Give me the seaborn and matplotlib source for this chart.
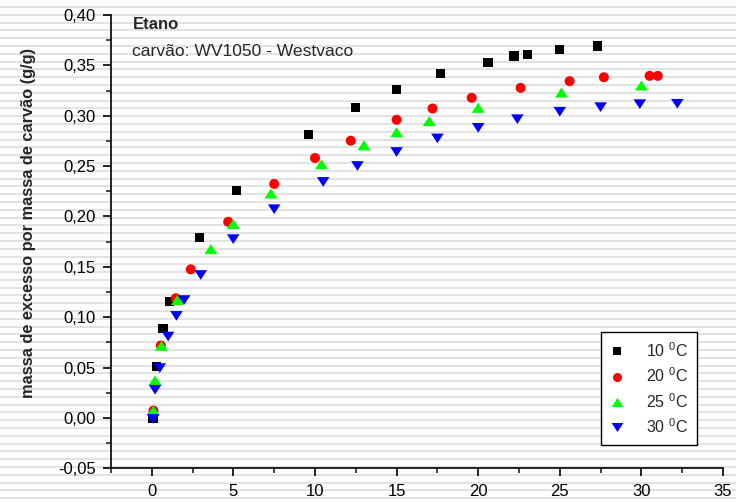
import numpy as np
import pandas as pd
import matplotlib
matplotlib.use("Agg")
import matplotlib.pyplot as plt
from matplotlib.lines import Line2D
from matplotlib.ticker import FuncFormatter, MultipleLocator
import seaborn as sns

# ---- data ----
x10 = [0.08, 0.28, 0.69, 1.1, 2.9, 5.19, 9.59, 12.49, 15.0, 17.71, 20.6, 22.2, 23.0, 25.0, 27.3]
y10 = [0.000, 0.051, 0.089, 0.1155, 0.179, 0.226, 0.2815, 0.308, 0.3257, 0.3416, 0.353, 0.3594, 0.3607, 0.366, 0.3693]

x20 = [0.1, 0.55, 1.47, 2.39, 4.68, 7.5, 10.0, 12.19, 15.0, 17.2, 19.6, 22.6, 25.6, 27.7, 30.5, 31.0]
y20 = [0.0072, 0.0719, 0.1188, 0.1475, 0.1947, 0.2323, 0.258, 0.2752, 0.296, 0.3072, 0.3178, 0.3277, 0.3343, 0.3382, 0.3396, 0.3396]

x25 = [0.1, 0.2, 0.59, 1.57, 3.62, 4.99, 7.3, 10.4, 13.0, 15.0, 17.0, 20.0, 25.1, 30.0]
y25 = [0.0072, 0.0372, 0.0716, 0.117, 0.1676, 0.1924, 0.2228, 0.2518, 0.2706, 0.2835, 0.2947, 0.3079, 0.323, 0.330]

x30 = [0.08, 0.2, 0.49, 1.0, 1.51, 1.98, 3.0, 4.99, 7.5, 10.5, 12.6, 15.0, 17.5, 20.0, 22.4, 25.0, 27.5, 29.9, 32.2]
y30 = [-0.001, 0.028, 0.0495, 0.0808, 0.1013, 0.117, 0.1419, 0.1775, 0.2072, 0.2343, 0.2501, 0.264, 0.2775, 0.288, 0.2966, 0.304, 0.3085, 0.3115, 0.3119]

series_labels = ["10 $^0$C", "20 $^0$C", "25 $^0$C", "30 $^0$C"]
title_text = "Etano"
subtitle_text = "carvão: WV1050 - Westvaco"
ylabel_text = "massa de excesso por massa de carvão (g/g)"

df = pd.concat([
    pd.DataFrame({"x": x, "y": y, "serie": lab})
    for x, y, lab in zip([x10, x20, x25, x30], [y10, y20, y25, y30], series_labels)
], ignore_index=True)

# ---- style ----
sns.set_style("ticks")
plt.rcParams["font.family"] = ["Liberation Sans", "DejaVu Sans"]
plt.rcParams["mathtext.fontset"] = "custom"
plt.rcParams["mathtext.rm"] = "Liberation Sans"
plt.rcParams["mathtext.it"] = "Liberation Sans:italic"
plt.rcParams["mathtext.bf"] = "Liberation Sans:bold"

fig = plt.figure(figsize=(7.36, 5.03), dpi=100)
fig.patch.set_facecolor("white")

# background horizontal stripes (as in the scanned reference)
H = 503.0
period = 7.8
y0 = 6.9
k = 0
while y0 + k * period < H:
    py = y0 + k * period
    fig.add_artist(Line2D([0, 1], [1 - py / H, 1 - py / H], transform=fig.transFigure,
                          color="#e2e2e2", lw=1.4, zorder=-20))
    k += 1

ax = fig.add_axes([111 / 736, 1 - 468.3 / 503, (723 - 111) / 736, (468.3 - 15) / 503])
ax.patch.set_visible(False)

tri_up = [(-1.3, -1.0), (1.3, -1.0), (0.0, 1.0)]
tri_dn = [(-1.3, 1.0), (1.3, 1.0), (0.0, -1.0)]

palette = {series_labels[0]: "#000000", series_labels[1]: "#ff0000",
           series_labels[2]: "#00ff00", series_labels[3]: "#0000ff"}
markers = {series_labels[0]: "s", series_labels[1]: "o",
           series_labels[2]: tri_up, series_labels[3]: tri_dn}
sizes = {series_labels[0]: 44, series_labels[1]: 52,
         series_labels[2]: 88, series_labels[3]: 82}

sns.scatterplot(data=df, x="x", y="y", hue="serie", style="serie", size="serie",
                palette=palette, markers=markers, sizes=sizes, linewidth=0,
                ax=ax, legend=False, zorder=3)

ax.set_xlim(-2.5, 35)
ax.set_ylim(-0.05, 0.40)

ax.xaxis.set_major_locator(MultipleLocator(5))
ax.xaxis.set_minor_locator(MultipleLocator(2.5))
ax.yaxis.set_major_locator(MultipleLocator(0.05))
ax.yaxis.set_minor_locator(MultipleLocator(0.025))
ax.xaxis.set_major_formatter(FuncFormatter(lambda v, p: f"{v:.0f}"))
ax.yaxis.set_major_formatter(FuncFormatter(lambda v, p: f"{v:.2f}".replace(".", ",").replace("-0,00", "0,00")))

ax.tick_params(axis="both", which="major", length=6, width=1.2, direction="out",
               labelsize=12, colors="black")
ax.tick_params(axis="y", which="major", pad=5)
ax.tick_params(axis="x", which="major", pad=5)
ax.tick_params(axis="both", which="minor", length=3.5, width=1.2, direction="out")

sns.despine(ax=ax, top=True, right=True)
for s in ["left", "bottom"]:
    ax.spines[s].set_linewidth(1.2)
    ax.spines[s].set_color("black")

ax.set_xlabel("")
ax.set_ylabel(ylabel_text, fontsize=11.8, fontweight="bold")
ax.yaxis.set_label_coords(-0.122, 0.542)

ax.text(0.036, 0.995, title_text, transform=ax.transAxes, fontsize=12,
        fontweight="bold", va="top", ha="left")
ax.text(0.034, 0.937, subtitle_text, transform=ax.transAxes, fontsize=12.6,
        va="top", ha="left")

leg_sizes = {series_labels[0]: 6.0, series_labels[1]: 6.5,
             series_labels[2]: 8.5, series_labels[3]: 8.5}
handles = [Line2D([], [], linestyle="none", marker=markers[l], color=palette[l],
                  markersize=leg_sizes[l], markeredgewidth=0) for l in series_labels]
leg = ax.legend(handles, series_labels, loc="upper left", bbox_to_anchor=(0.800, 0.300),
                frameon=True, fancybox=False, framealpha=1, edgecolor="black",
                fontsize=11.5, handlelength=1.0, handletextpad=1.3, labelspacing=0.42,
                borderpad=0.55, borderaxespad=0)
leg.get_frame().set_linewidth(1.0)

fig.savefig("out.png", dpi=100)
